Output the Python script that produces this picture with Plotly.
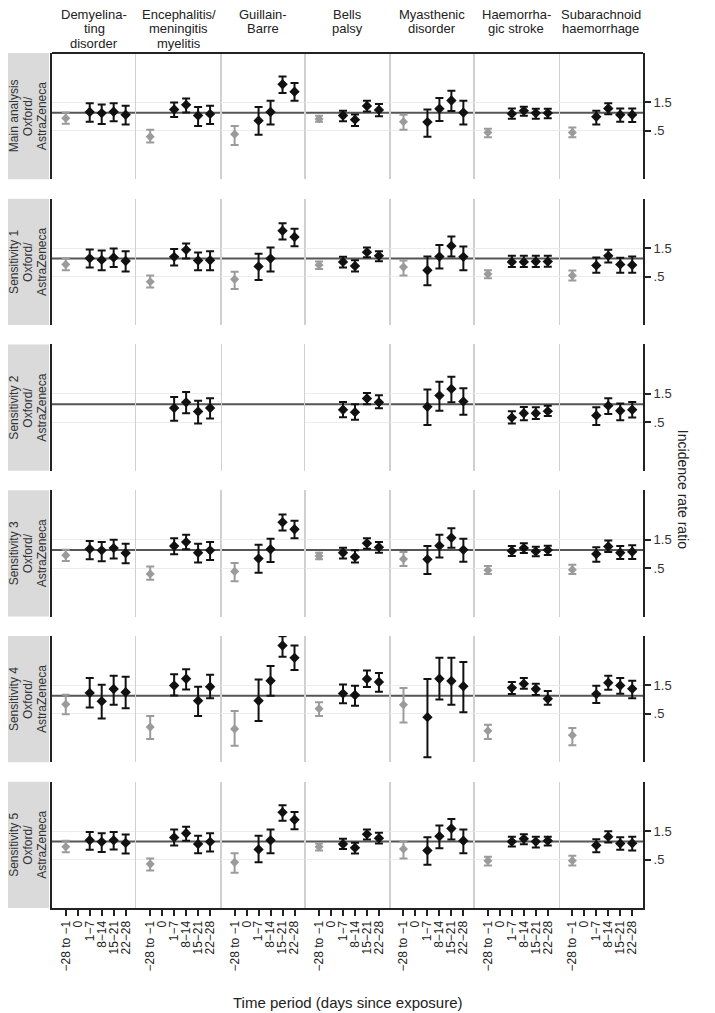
import plotly.graph_objects as go
from plotly.subplots import make_subplots

# column (outcome) titles and row (analysis) labels
outcomes = [["Demyelina-", "ting", "disorder"], ["Encephalitis/", "meningitis", "myelitis"],
            ["Guillain-", "Barre"], ["Bells", "palsy"], ["Myasthenic", "disorder"],
            ["Haemorrha-", "gic stroke"], ["Subarachnoid", "haemorrhage"]]
analyses = ["Main analysis", "Sensitivity 1", "Sensitivity 2",
            "Sensitivity 3", "Sensitivity 4", "Sensitivity 5"]
vaccine = ["Oxford/", "AstraZeneca"]
periods = ["\u221228 to \u22121", "0", "1\u22127", "8\u221214", "15\u221221", "22\u221228"]
pre_period = periods[0]
post_periods = periods[2:]

# each outcome: [pre-exposure, 1-7, 8-14, 15-21, 22-28]
main_irr = [[0.81, 1.03, 0.99, 1.04, 0.93], [0.40, 1.14, 1.36, 0.90, 0.96], [0.44, 0.74, 1.03, 3.00, 2.26],
            [0.79, 0.90, 0.77, 1.30, 1.12], [0.71, 0.70, 1.17, 1.61, 1.01], [0.47, 0.97, 1.08, 0.99, 0.99],
            [0.47, 0.86, 1.18, 0.93, 0.93]]
main_lo = [[0.66, 0.71, 0.65, 0.72, 0.64], [0.32, 0.85, 1.01, 0.60, 0.65], [0.29, 0.43, 0.64, 2.14, 1.59],
           [0.71, 0.72, 0.60, 1.05, 0.88], [0.52, 0.40, 0.73, 1.07, 0.64], [0.39, 0.80, 0.89, 0.80, 0.81],
           [0.39, 0.64, 0.95, 0.71, 0.70]]
main_hi = [[1.01, 1.45, 1.38, 1.45, 1.31], [0.52, 1.49, 1.74, 1.25, 1.31], [0.60, 1.25, 1.59, 4.04, 3.16],
           [0.89, 1.08, 0.94, 1.59, 1.40], [0.93, 1.14, 1.77, 2.35, 1.59], [0.54, 1.18, 1.26, 1.17, 1.17],
           [0.57, 1.08, 1.45, 1.18, 1.18]]

sens1_irr = [[0.80, 1.01, 0.95, 1.04, 0.91], [0.41, 1.07, 1.40, 0.93, 0.94], [0.45, 0.74, 1.00, 2.92, 2.29],
             [0.78, 0.88, 0.75, 1.28, 1.11], [0.72, 0.64, 1.08, 1.63, 1.07], [0.55, 0.88, 0.88, 0.89, 0.89],
             [0.52, 0.77, 1.11, 0.80, 0.78]]
sens1_lo = [[0.64, 0.71, 0.64, 0.72, 0.61], [0.33, 0.77, 1.00, 0.64, 0.64], [0.31, 0.44, 0.61, 2.09, 1.61],
            [0.67, 0.71, 0.61, 1.05, 0.90], [0.52, 0.36, 0.68, 1.08, 0.64], [0.47, 0.72, 0.72, 0.72, 0.73],
            [0.43, 0.58, 0.86, 0.58, 0.58]]
sens1_hi = [[1.00, 1.42, 1.36, 1.47, 1.33], [0.52, 1.45, 1.79, 1.26, 1.33], [0.60, 1.21, 1.53, 3.88, 3.16],
            [0.89, 1.07, 0.94, 1.53, 1.33], [0.93, 1.08, 1.68, 2.35, 1.59], [0.64, 1.11, 1.11, 1.11, 1.11],
            [0.63, 1.04, 1.40, 1.03, 1.08]]

N = None
sens2_irr = [[N, N, N, N, N], [N, 0.87, 1.08, 0.76, 0.87], [N, N, N, N, N],
             [N, 0.81, 0.74, 1.25, 1.08], [N, 0.91, 1.40, 1.81, 1.12], [N, 0.60, 0.71, 0.71, 0.77],
             [N, 0.65, 0.95, 0.78, 0.81]]
sens2_lo = [[N, N, N, N, N], [N, 0.53, 0.71, 0.48, 0.58], [N, N, N, N, N],
            [N, 0.61, 0.55, 1.00, 0.86], [N, 0.45, 0.78, 1.08, 0.67], [N, 0.48, 0.54, 0.57, 0.64],
            [N, 0.45, 0.69, 0.54, 0.60]]
sens2_hi = [[N, N, N, N, N], [N, 1.33, 1.61, 1.15, 1.26], [N, N, N, N, N],
            [N, 1.09, 1.00, 1.55, 1.42], [N, 1.77, 2.38, 2.88, 1.86], [N, 0.77, 0.90, 0.89, 0.95],
            [N, 0.89, 1.26, 1.03, 1.09]]

sens3_irr = [[0.82, 1.04, 0.99, 1.08, 0.89], [0.40, 1.17, 1.36, 0.90, 0.99], [0.44, 0.72, 1.03, 2.92, 2.23],
             [0.80, 0.90, 0.77, 1.30, 1.12], [0.71, 0.70, 1.18, 1.61, 1.01], [0.46, 0.97, 1.08, 0.95, 1.00],
             [0.47, 0.86, 1.15, 0.90, 0.94]]
sens3_lo = [[0.66, 0.70, 0.65, 0.72, 0.60], [0.32, 0.85, 1.03, 0.62, 0.68], [0.30, 0.42, 0.63, 2.12, 1.57],
            [0.70, 0.72, 0.62, 1.05, 0.90], [0.54, 0.40, 0.75, 1.09, 0.64], [0.40, 0.80, 0.89, 0.79, 0.83],
            [0.40, 0.64, 0.93, 0.71, 0.71]]
sens3_hi = [[1.01, 1.42, 1.36, 1.49, 1.28], [0.53, 1.57, 1.81, 1.28, 1.36], [0.61, 1.23, 1.55, 3.93, 3.08],
            [0.90, 1.09, 0.99, 1.57, 1.36], [0.93, 1.17, 1.81, 2.32, 1.55], [0.54, 1.17, 1.30, 1.14, 1.18],
            [0.57, 1.12, 1.44, 1.17, 1.20]]

sens4_irr = [[0.72, 1.12, 0.81, 1.30, 1.15], [0.30, 1.49, 1.93, 0.83, 1.42], [0.28, 0.83, 1.79, 6.94, 4.31],
             [0.61, 1.09, 1.03, 1.91, 1.70], [0.71, 0.44, 1.93, 1.77, 1.45], [0.26, 1.36, 1.59, 1.30, 0.89],
             [0.22, 1.07, 1.65, 1.49, 1.31]]
sens4_lo = [[0.49, 0.64, 0.42, 0.71, 0.62], [0.19, 1.01, 1.28, 0.46, 0.91], [0.146, 0.38, 1.00, 4.48, 2.70],
            [0.46, 0.75, 0.68, 1.40, 1.17], [0.36, 0.094, 0.87, 0.71, 0.53], [0.19, 1.07, 1.31, 1.03, 0.71],
            [0.15, 0.76, 1.26, 1.08, 0.91]]
sens4_hi = [[1.04, 1.98, 1.53, 2.17, 2.09], [0.46, 2.29, 2.78, 1.42, 2.26], [0.56, 1.88, 3.16, 9.9, 6.94],
            [0.78, 1.55, 1.47, 2.64, 2.41], [1.35, 1.91, 4.31, 4.31, 3.69], [0.33, 1.70, 1.98, 1.59, 1.20],
            [0.29, 1.47, 2.17, 1.98, 1.79]]

sens5_irr = [[0.82, 1.05, 0.99, 1.05, 0.95], [0.42, 1.17, 1.38, 0.91, 0.99], [0.45, 0.74, 1.05, 3.08, 2.32],
             [0.82, 0.91, 0.79, 1.33, 1.14], [0.75, 0.71, 1.23, 1.65, 1.03], [0.48, 1.00, 1.11, 1.00, 1.03],
             [0.48, 0.87, 1.21, 0.93, 0.94]]
sens5_lo = [[0.66, 0.73, 0.67, 0.74, 0.63], [0.33, 0.86, 1.03, 0.64, 0.68], [0.30, 0.45, 0.64, 2.23, 1.61],
            [0.71, 0.75, 0.63, 1.08, 0.93], [0.52, 0.41, 0.77, 1.08, 0.64], [0.40, 0.83, 0.90, 0.80, 0.86],
            [0.40, 0.66, 0.97, 0.73, 0.71]]
sens5_hi = [[1.03, 1.45, 1.38, 1.45, 1.31], [0.52, 1.59, 1.77, 1.25, 1.38], [0.64, 1.25, 1.59, 4.04, 3.12],
            [0.93, 1.12, 0.96, 1.59, 1.40], [0.99, 1.18, 1.86, 2.38, 1.59], [0.56, 1.20, 1.33, 1.20, 1.20],
            [0.58, 1.09, 1.49, 1.18, 1.20]]

rows_data = [(main_irr, main_lo, main_hi), (sens1_irr, sens1_lo, sens1_hi), (sens2_irr, sens2_lo, sens2_hi),
             (sens3_irr, sens3_lo, sens3_hi), (sens4_irr, sens4_lo, sens4_hi), (sens5_irr, sens5_lo, sens5_hi)]

FONT = "Liberation Sans, Arial, sans-serif"
GRAY = "#9b9b9b"
BLACK = "#111111"

# the page body adds an 8px offset, so the figure is 8px smaller than the window
W, H = 707, 1005
ML, MR, MT, MB = 44, 72, 45, 105
PW, PH = W - ML - MR, H - MT - MB

n_rows, n_cols = 6, 7
fig = make_subplots(rows=n_rows, cols=n_cols, horizontal_spacing=0, vertical_spacing=0.0228)


def add_points(r, c, labels, irr, lo, hi, color, size):
    pts = [(periods.index(p), v, l, h) for p, v, l, h in zip(labels, irr, lo, hi) if v is not None]
    if not pts:
        return
    fig.add_trace(go.Scatter(
        x=[p[0] for p in pts], y=[p[1] for p in pts], mode="markers",
        marker=dict(symbol="diamond", size=size, color=color),
        error_y=dict(type="data", symmetric=False,
                     array=[p[3] - p[1] for p in pts], arrayminus=[p[1] - p[2] for p in pts],
                     color=color, thickness=2, width=4),
        showlegend=False, hoverinfo="skip"), row=r, col=c)


for r, (irr, lo, hi) in enumerate(rows_data, start=1):
    for c in range(1, n_cols + 1):
        i = c - 1
        add_points(r, c, [pre_period], irr[i][:1], lo[i][:1], hi[i][:1], GRAY, 7)
        add_points(r, c, post_periods, irr[i][1:], lo[i][1:], hi[i][1:], BLACK, 8)

# axes
for r in range(1, n_rows + 1):
    for c in range(1, n_cols + 1):
        xa = dict(range=[-1.15, 5.9], showgrid=False, zeroline=False, showline=False,
                  tickvals=list(range(len(periods))), ticktext=periods, ticks="", showticklabels=False)
        if r == n_rows:
            xa.update(showline=True, linecolor="#222", linewidth=2, ticks="outside", ticklen=6,
                      tickwidth=1.5, tickcolor="#222", showticklabels=True, tickangle=-90,
                      tickfont=dict(size=12, color="#222", family=FONT))
        fig.update_xaxes(row=r, col=c, **xa)

        ya = dict(type="log", range=[-1.11, 1.0], tickvals=[0.5, 1.5], ticktext=[".5", "1.5"],
                  showgrid=True, gridcolor="#ececec", gridwidth=1, zeroline=False,
                  showticklabels=False, ticks="")
        if c == 1:
            ya.update(showline=True, linecolor="#222", linewidth=2)
        elif c < n_cols:
            ya.update(showline=True, linecolor="#d0d0d0", linewidth=1.3, mirror=True)
        else:
            ya.update(side="right", showline=True, linecolor="#222", linewidth=2, ticks="outside",
                      ticklen=6, tickwidth=1.5, tickcolor="#222", showticklabels=True,
                      tickfont=dict(size=13, color="#333", family=FONT))
        fig.update_yaxes(row=r, col=c, **ya)

# reference line at IRR = 1, row label boxes and labels
for r in range(1, n_rows + 1):
    n = (r - 1) * n_cols + 1
    yname = "y" if n == 1 else f"y{n}"
    fig.add_shape(type="line", xref="paper", x0=0, x1=1, yref=yname, y0=1, y1=1,
                  line=dict(color="#555", width=2), layer="between")
    fig.add_shape(type="rect", xref="paper", x0=-ML / PW, x1=-3 / PW,
                  yref=f"{yname} domain", y0=0, y1=1, fillcolor="#dadada", line_width=0, layer="below")
    for k, line in enumerate([analyses[r - 1]] + vaccine):
        fig.add_annotation(text=line, xref="paper", x=(6 + 14 * k - ML) / PW,
                           yref=f"{yname} domain", y=0.5, xanchor="center", yanchor="middle",
                           textangle=-90, showarrow=False,
                           font=dict(size=12, color="#333", family=FONT))

# top border of first row
fig.add_shape(type="line", xref="paper", x0=0, x1=1, yref="y domain", y0=1, y1=1,
              line=dict(color="#222", width=2))

for c, lines in enumerate(outcomes):
    for k, line in enumerate(lines):
        fig.add_annotation(text=line, xref="paper", x=(c + 0.5) / n_cols,
                           yref="paper", y=1 + (MT - 7 - 14 * k) / PH,
                           xanchor="center", yanchor="middle", showarrow=False,
                           font=dict(size=13, color="#222", family=FONT))

fig.add_annotation(text="Time period (days since exposure)", xref="paper", x=0.5, yref="paper", y=-0.11,
                   xanchor="center", yanchor="middle", showarrow=False,
                   font=dict(size=15, color="#222", family=FONT))
fig.add_annotation(text="Incidence rate ratio", xref="paper", x=1.068, yref="paper", y=0.49,
                   xanchor="center", yanchor="middle", textangle=90, showarrow=False,
                   font=dict(size=14, color="#222", family=FONT))

fig.update_layout(width=W, height=H, margin=dict(l=ML, r=MR, t=MT, b=MB),
                  plot_bgcolor="white", paper_bgcolor="white", showlegend=False,
                  font=dict(family=FONT, color="#222"))

fig.write_html("out.html")
